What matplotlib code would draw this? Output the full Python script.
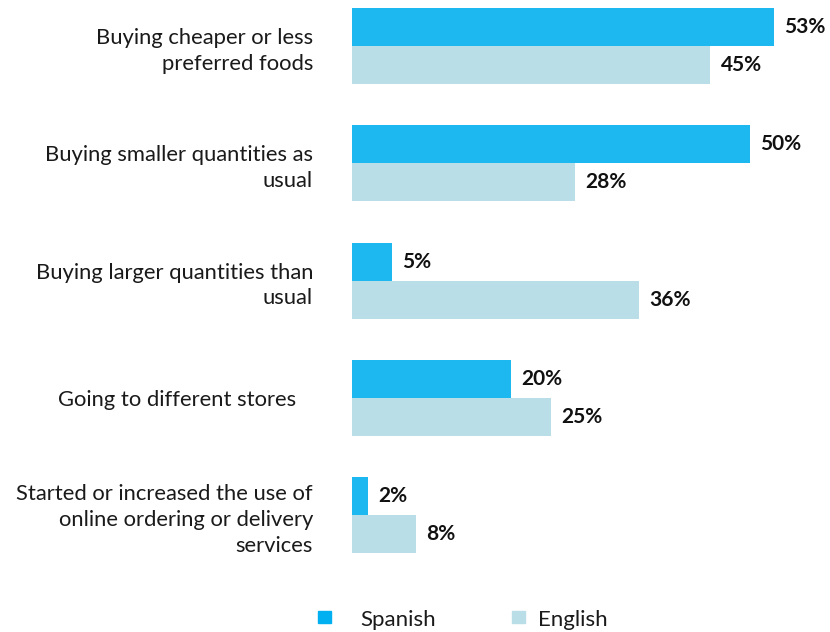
import matplotlib
matplotlib.use("Agg")
import matplotlib.pyplot as plt
from matplotlib.patches import Rectangle

categories = [
    "Buying cheaper or less\npreferred foods",
    "Buying smaller quantities as\nusual",
    "Buying larger quantities than\nusual",
    "Going to different stores   ",
    "Started or increased the use of\nonline ordering or delivery\nservices",
]
spanish = [53, 50, 5, 20, 2]
english = [45, 28, 36, 25, 8]
series_names = ["Spanish", "English"]

c_spanish = "#1EB8F0"
c_english = "#B9DEE8"
font = ["Lato", "DejaVu Sans"]

W, H = 830, 632
fig = plt.figure(figsize=(W / 100, H / 100), dpi=100)

# axes spanning pixel x 352..829, pixel y 0..570 (from top)
ax_left, ax_right, ax_top, ax_bot = 352, 829, 0, 570
ax = fig.add_axes([ax_left / W, 1 - ax_bot / H, (ax_right - ax_left) / W, (ax_bot - ax_top) / H])

spacing = 117.3
c0 = 46
ax.set_ylim((ax_bot - c0) / spacing, (ax_top - c0) / spacing)
ax.set_xlim(0, (ax_right - ax_left) / 7.96)

bh = 0.324
for i, (s, e) in enumerate(zip(spanish, english)):
    ax.barh(i - bh / 2, s, height=bh, color=c_spanish, edgecolor="none")
    ax.barh(i + bh / 2, e, height=bh, color=c_english, edgecolor="none")
    ax.text(s + 1.3, i - bh / 2, f"{s}%", va="center", ha="left",
            fontsize=15, fontweight="bold", color="#111111", family=font)
    ax.text(e + 1.3, i + bh / 2, f"{e}%", va="center", ha="left",
            fontsize=15, fontweight="bold", color="#111111", family=font)

ax.set_yticks(range(len(categories)))
ax.set_yticklabels(categories, fontsize=15.8, family=font, color="#1a1a1a",
                   linespacing=1.35, ha="right")
ax.tick_params(axis="y", length=0, pad=28)
ax.set_xticks([])
for sp in ax.spines.values():
    sp.set_visible(False)

# legend
ly = 1 - 617 / H
for x_sq, x_txt, col, name in [(318, 360, "#00B0F0", series_names[0]),
                               (512, 538, c_english, series_names[1])]:
    fig.patches.append(Rectangle((x_sq / W, ly - 6 / H), 13 / W, 12 / H,
                                 transform=fig.transFigure, color=col, figure=fig))
    fig.text(x_txt / W, ly - 3 / H, name, fontsize=16, family=font,
             color="#1a1a1a", va="center", ha="left")

fig.savefig("out.png", dpi=100, facecolor="white")
